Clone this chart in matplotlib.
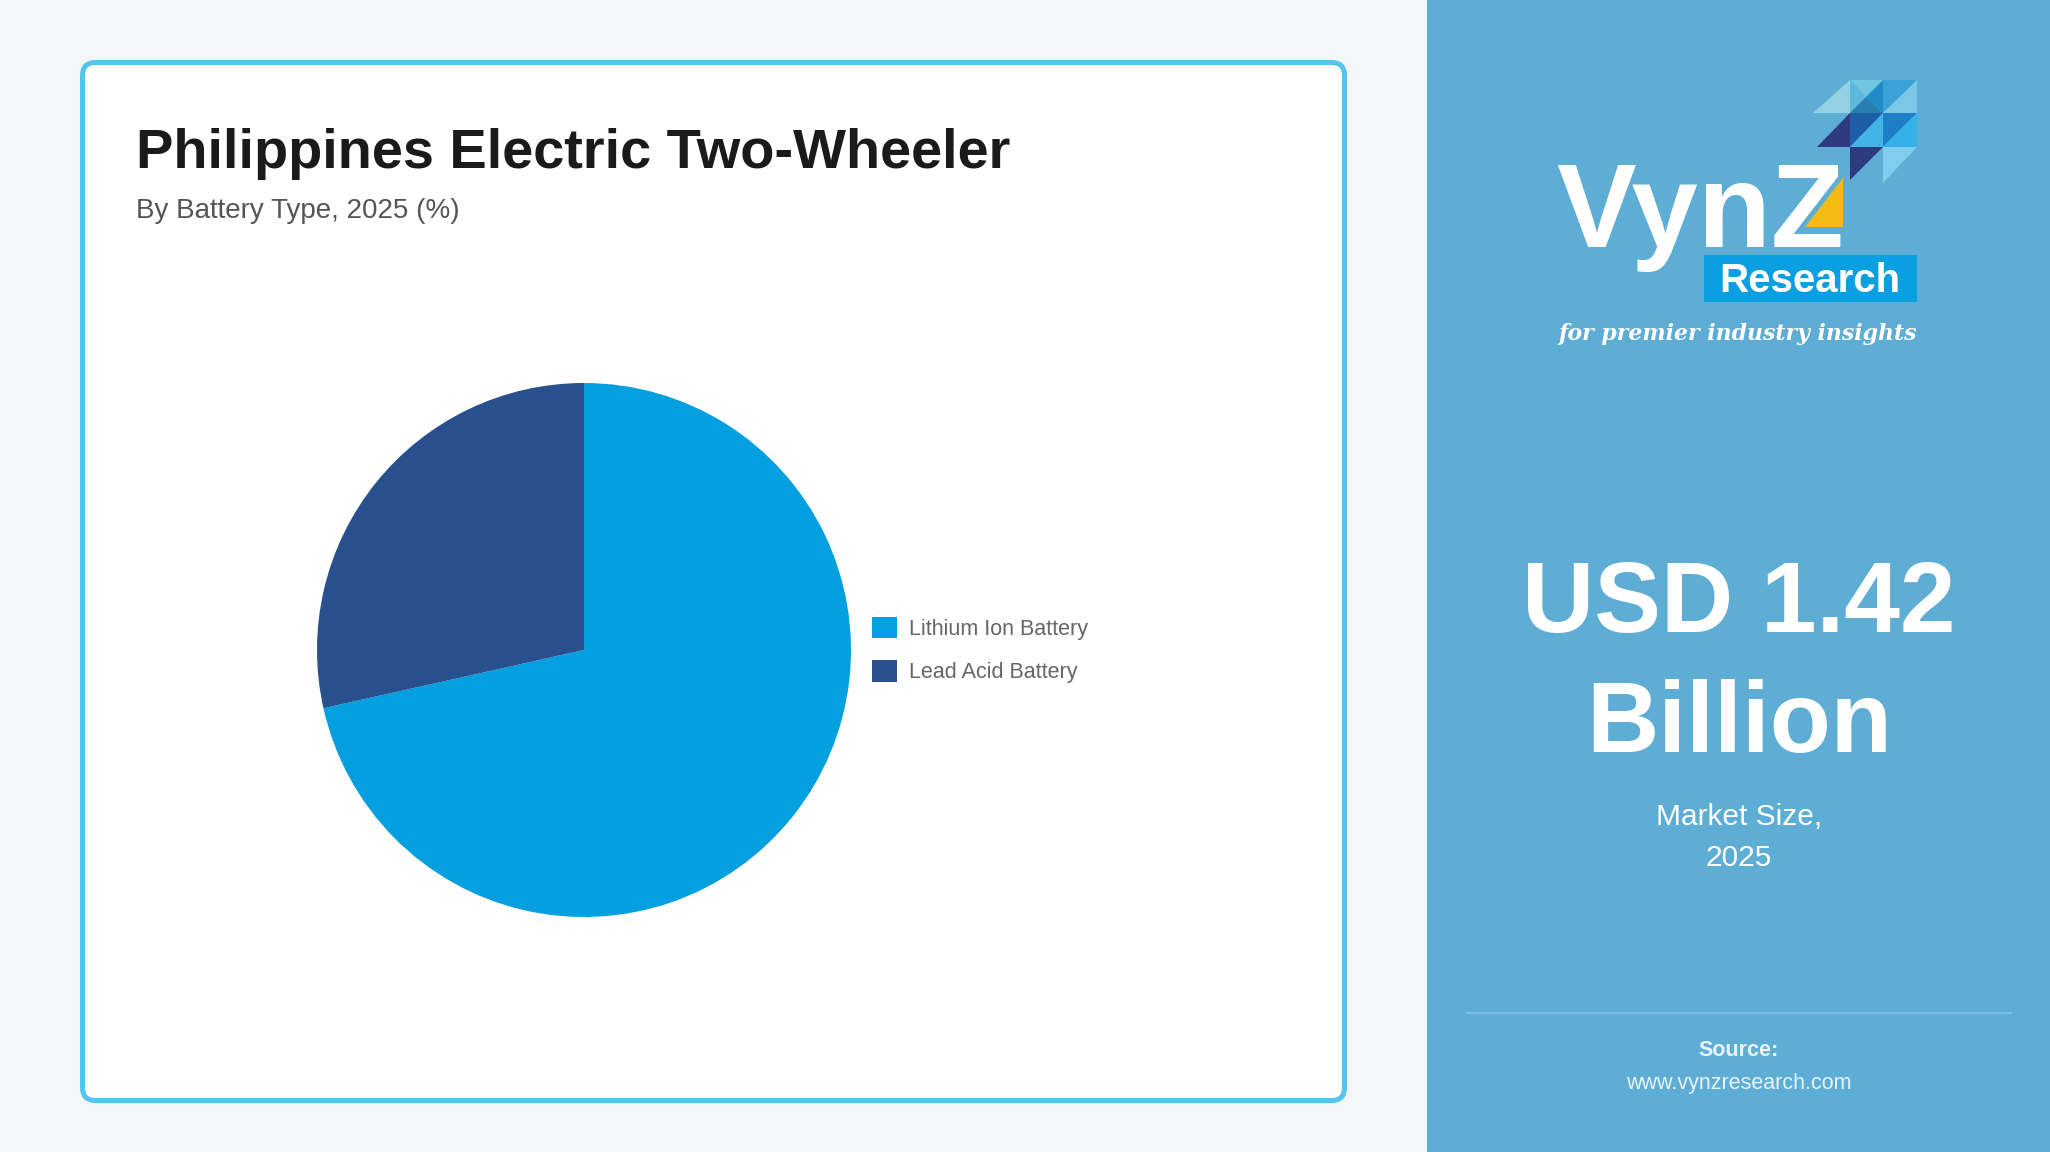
import matplotlib
matplotlib.use("Agg")
import matplotlib.pyplot as plt
from matplotlib.patches import FancyBboxPatch, Rectangle, Polygon

# ---- data ----
categories = ["Lithium Ion Battery", "Lead Acid Battery"]
shares = [71.5, 28.5]
colors = ["#039fdf", "#28508f"]
title = "Philippines Electric Two-Wheeler"
subtitle = "By Battery Type, 2025 (%)"
market_value = "USD 1.42"
market_unit = "Billion"
market_label = ["Market Size,", "2025"]
source_label = "Source:"
source_url = "www.vynzresearch.com"

W, H = 2050, 1152
plt.rcParams['font.family'] = ['Liberation Sans', 'DejaVu Sans']
fig = plt.figure(figsize=(W / 100, H / 100), dpi=100)
fig.patch.set_facecolor("#f4f7fa")

bg = fig.add_axes([0, 0, 1, 1])
bg.set_xlim(0, W)
bg.set_ylim(H, 0)
bg.axis("off")

# card
card = FancyBboxPatch((82.5, 62.5), 1262, 1038, boxstyle="round,pad=0,rounding_size=13",
                      facecolor="white", edgecolor="#55c4f0", linewidth=3.6)
bg.add_patch(card)

# right panel
bg.add_patch(Rectangle((1427, 0), W - 1427, H, facecolor="#5eadd4", edgecolor="none"))

# titles
bg.text(136, 168, title, fontsize=40.3, fontweight="bold", color="#1a1a1a", va="baseline", ha="left")
bg.text(136, 218, subtitle, fontsize=20, color="#555555", va="baseline", ha="left")

# right panel texts
cx = 1739
bg.text(cx, 632, market_value, fontsize=72, fontweight="bold", color="white", ha="center", va="baseline")
bg.text(cx, 752, market_unit, fontsize=72, fontweight="bold", color="white", ha="center", va="baseline")
bg.text(cx, 825, market_label[0], fontsize=21.5, color="white", ha="center", va="baseline")
bg.text(cx, 866, market_label[1], fontsize=21.5, color="white", ha="center", va="baseline")
bg.plot([1467, 2011], [1013, 1013], color="#7dbde0", lw=1.5)
bg.text(cx, 1056, source_label, fontsize=15.5, fontweight="bold", color="#e8f4fa", ha="center", va="baseline")
bg.text(cx, 1089, source_url, fontsize=15.5, color="#e8f4fa", ha="center", va="baseline")

# logo
tris = [
    ([(1813, 113), (1850, 80), (1850, 113)], "#93d2e2"),
    ([(1850, 80), (1883, 80), (1866, 97)], "#72c6e2"),
    ([(1850, 80), (1850, 113), (1866, 97)], "#5cb8dc"),
    ([(1850, 113), (1883, 113), (1866, 97)], "#2a7fb2"),
    ([(1883, 80), (1883, 113), (1866, 97)], "#1f8cc8"),
    ([(1883, 80), (1917, 80), (1883, 113)], "#3aa2d6"),
    ([(1917, 80), (1917, 113), (1883, 113)], "#7cc6e6"),
    ([(1817, 147), (1850, 113), (1850, 147)], "#2e3a80"),
    ([(1850, 113), (1883, 113), (1850, 147)], "#1e5ea6"),
    ([(1883, 113), (1883, 147), (1850, 147)], "#43b4e6"),
    ([(1883, 113), (1917, 113), (1883, 147)], "#1f7fc6"),
    ([(1917, 113), (1917, 147), (1883, 147)], "#34b0e8"),
    ([(1850, 147), (1883, 147), (1850, 180)], "#2e3a80"),
    ([(1883, 147), (1917, 147), (1883, 183)], "#80cdee"),
]
for pts, c in tris:
    bg.add_patch(Polygon(pts, closed=True, facecolor=c, edgecolor="none"))
bg.text(1556, 247, "VynZ", fontsize=86, fontweight="bold", color="white", ha="left", va="baseline")
bg.add_patch(Polygon([(1843, 178), (1843, 227), (1805, 227)], closed=True, facecolor="#f5bb12", edgecolor="none"))
bg.add_patch(Rectangle((1704, 255), 213, 47, facecolor="#0a9fe0", edgecolor="none"))
bg.text(1810, 292, "Research", fontsize=29, fontweight="bold", color="white", ha="center", va="baseline")
bg.text(1558, 340, "for premier industry insights", fontsize=15.8, fontstyle="italic", fontweight="bold",
        family="DejaVu Serif", color="white", ha="left", va="baseline")

# pie
pcx, pcy, r = 584, 650, 267
pax = fig.add_axes([(pcx - r) / W, (H - pcy - r) / H, 2 * r / W, 2 * r / H])
wedges, _ = pax.pie(shares, colors=colors, startangle=90, counterclock=False, radius=1,
                    wedgeprops=dict(linewidth=0))
pax.set_xlim(-1, 1)
pax.set_ylim(-1, 1)
pax.set_aspect("equal")
pax.axis("off")

leg = fig.legend(wedges, categories, loc="center left", bbox_to_anchor=(872 / W, (H - 650) / H),
                 frameon=False, fontsize=15.5, handlelength=1.15, handleheight=1.15,
                 handletextpad=0.55, labelspacing=0.95, borderpad=0, borderaxespad=0)
for t in leg.get_texts():
    t.set_color("#666666")

fig.savefig("out.png", dpi=100, facecolor=fig.get_facecolor())
